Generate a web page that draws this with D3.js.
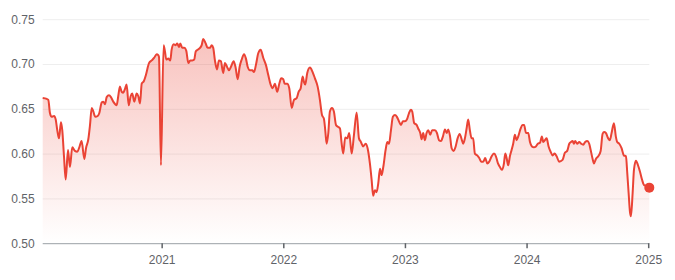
<!DOCTYPE html>
<html>
<head>
<meta charset="utf-8">
<script src="https://cdn.jsdelivr.net/npm/d3@7"></script>
<style>
  body { margin: 0; background: #fff; }
  svg { display: block; font-family: Roboto, Arial, sans-serif; }
  .tick text { fill: #5f6368; font-size: 12px; }
</style>
</head>
<body>
<div id="chart"></div>
<script>
// time as decimal years
var years = [
  2020.022,2020.055,2020.068,2020.082,2020.096,2020.115,2020.129,2020.142,2020.156,2020.172,
  2020.183,2020.197,2020.211,2020.230,2020.246,2020.265,2020.287,2020.306,2020.323,2020.342,
  2020.364,2020.378,2020.397,2020.411,2020.425,2020.438,2020.454,2020.474,2020.487,2020.507,
  2020.520,2020.534,2020.548,2020.567,2020.583,2020.602,2020.630,2020.643,2020.657,2020.671,
  2020.684,2020.698,2020.712,2020.729,2020.745,2020.758,2020.775,2020.794,2020.808,2020.822,
  2020.836,2020.854,2020.871,2020.896,2020.918,2020.939,2020.959,2020.972,2020.978,2020.994,
  2021.016,2021.027,2021.038,2021.054,2021.071,2021.082,2021.099,2021.115,2021.128,2021.142,
  2021.153,2021.169,2021.186,2021.202,2021.219,2021.235,2021.252,2021.268,2021.280,2021.296,
  2021.315,2021.329,2021.342,2021.362,2021.378,2021.397,2021.411,2021.424,2021.438,2021.455,
  2021.471,2021.487,2021.506,2021.520,2021.537,2021.553,2021.570,2021.592,2021.608,2021.625,
  2021.641,2021.658,2021.677,2021.693,2021.707,2021.726,2021.745,2021.759,2021.775,2021.794,
  2021.814,2021.835,2021.857,2021.876,2021.896,2021.912,2021.931,2021.950,2021.967,2021.983,
  2022.000,2022.011,2022.032,2022.049,2022.069,2022.088,2022.110,2022.126,2022.143,2022.159,
  2022.170,2022.180,2022.197,2022.219,2022.241,2022.260,2022.282,2022.301,2022.318,2022.334,
  2022.345,2022.356,2022.370,2022.383,2022.400,2022.416,2022.433,2022.449,2022.466,2022.480,
  2022.493,2022.509,2022.526,2022.542,2022.562,2022.581,2022.603,2022.622,2022.638,2022.657,
  2022.677,2022.693,2022.712,2022.726,2022.739,2022.753,2022.767,2022.781,2022.795,2022.808,
  2022.822,2022.841,2022.855,2022.869,2022.885,2022.901,2022.918,2022.934,2022.951,2022.967,
  2022.984,2023.000,2023.016,2023.033,2023.049,2023.060,2023.076,2023.096,2023.109,2023.126,
  2023.137,2023.150,2023.164,2023.178,2023.192,2023.208,2023.224,2023.247,2023.263,2023.280,
  2023.296,2023.312,2023.329,2023.343,2023.356,2023.370,2023.384,2023.400,2023.417,2023.433,
  2023.450,2023.466,2023.479,2023.493,2023.507,2023.520,2023.534,2023.548,2023.561,2023.575,
  2023.594,2023.611,2023.627,2023.644,2023.660,2023.677,2023.693,2023.713,2023.732,2023.748,
  2023.765,2023.781,2023.797,2023.814,2023.825,2023.836,2023.849,2023.863,2023.877,2023.890,
  2023.904,2023.918,2023.931,2023.951,2023.967,2023.980,2023.995,2024.014,2024.028,2024.044,
  2024.060,2024.077,2024.093,2024.110,2024.126,2024.137,2024.151,2024.165,2024.181,2024.198,
  2024.214,2024.230,2024.247,2024.268,2024.296,2024.315,2024.334,2024.351,2024.365,2024.379,
  2024.389,2024.400,2024.416,2024.433,2024.449,2024.466,2024.482,2024.499,2024.515,2024.527,
  2024.543,2024.554,2024.570,2024.589,2024.609,2024.625,2024.638,2024.652,2024.671,2024.685,
  2024.699,2024.718,2024.734,2024.745,2024.762,2024.781,2024.800,2024.817,2024.828,2024.839,
  2024.850,2024.858,2024.872,2024.883,2024.899,2024.916,2024.932,2024.949,2024.965,2024.982,
  2025.009
];
var values = [
  0.662,0.661,0.660,0.645,0.641,0.642,0.638,0.626,0.617,0.635,
  0.626,0.597,0.571,0.604,0.585,0.607,0.603,0.602,0.607,0.614,
  0.594,0.606,0.616,0.632,0.651,0.647,0.641,0.642,0.645,0.657,
  0.658,0.655,0.663,0.665,0.663,0.658,0.654,0.664,0.675,0.669,
  0.668,0.672,0.677,0.654,0.664,0.667,0.658,0.667,0.664,0.656,
  0.678,0.681,0.688,0.701,0.704,0.707,0.711,0.710,0.708,0.587,
  0.721,0.714,0.705,0.706,0.704,0.716,0.722,0.721,0.723,0.719,
  0.723,0.718,0.718,0.715,0.701,0.704,0.704,0.705,0.714,0.716,
  0.718,0.721,0.728,0.723,0.718,0.718,0.721,0.718,0.704,0.694,
  0.704,0.703,0.690,0.701,0.697,0.693,0.697,0.703,0.696,0.683,
  0.697,0.705,0.711,0.706,0.697,0.693,0.693,0.691,0.699,0.712,
  0.716,0.707,0.699,0.688,0.677,0.673,0.678,0.669,0.678,0.684,
  0.683,0.678,0.678,0.673,0.651,0.660,0.662,0.669,0.673,0.686,
  0.680,0.677,0.690,0.696,0.691,0.684,0.675,0.660,0.643,0.639,
  0.626,0.611,0.623,0.647,0.651,0.647,0.632,0.630,0.628,0.611,
  0.600,0.618,0.617,0.623,0.600,0.621,0.646,0.617,0.613,0.608,
  0.611,0.606,0.589,0.571,0.553,0.559,0.557,0.567,0.583,0.576,
  0.585,0.604,0.613,0.611,0.626,0.641,0.643,0.641,0.636,0.632,
  0.636,0.636,0.638,0.645,0.649,0.647,0.634,0.632,0.628,0.623,
  0.616,0.623,0.615,0.623,0.626,0.621,0.626,0.626,0.623,0.615,
  0.614,0.619,0.627,0.623,0.627,0.620,0.606,0.603,0.608,0.617,
  0.622,0.616,0.611,0.617,0.628,0.638,0.626,0.617,0.617,0.600,
  0.598,0.595,0.591,0.591,0.595,0.589,0.591,0.597,0.600,0.597,
  0.589,0.585,0.582,0.589,0.600,0.595,0.587,0.597,0.604,0.611,
  0.621,0.615,0.619,0.628,0.632,0.632,0.623,0.623,0.613,0.608,
  0.607,0.608,0.611,0.612,0.619,0.613,0.615,0.617,0.608,0.602,
  0.598,0.600,0.597,0.591,0.593,0.601,0.603,0.611,0.613,0.614,
  0.611,0.614,0.611,0.613,0.611,0.610,0.613,0.614,0.611,0.604,
  0.594,0.589,0.594,0.597,0.603,0.622,0.624,0.623,0.617,0.615,
  0.623,0.634,0.619,0.613,0.611,0.606,0.598,0.597,0.578,0.556,
  0.535,0.530,0.556,0.582,0.592,0.587,0.580,0.571,0.565,0.564,
  0.562
];
var yTicks = [0.50, 0.55, 0.60, 0.65, 0.70, 0.75];
var xTicks = [2021, 2022, 2023, 2024, 2025];

var width = 675, height = 280;
var data = years.map(function(t, i) { return {t: t, v: values[i]}; });

var svg = d3.select("#chart").append("svg")
    .attr("width", width)
    .attr("height", height);

var x = d3.scaleLinear()
    .domain([2020.022, 2025.009])
    .range([42.7, 649.3]);

var y = d3.scaleLinear()
    .domain([0.5, 0.75])
    .range([243.2, 19.2]);

var defs = svg.append("defs");
var grad = defs.append("linearGradient")
    .attr("id", "fade")
    .attr("x1", 0).attr("y1", 0).attr("x2", 0).attr("y2", 1);
grad.append("stop").attr("offset", "0%").attr("stop-color", "#ea4335").attr("stop-opacity", 0.32);
grad.append("stop").attr("offset", "100%").attr("stop-color", "#ea4335").attr("stop-opacity", 0.0);

// gridlines
var gy = svg.append("g")
    .attr("transform", "translate(42.7,0)")
    .call(d3.axisLeft(y).tickValues(yTicks).tickFormat(d3.format(".2f"))
        .tickSize(-(649.3 - 42.7)).tickPadding(8));
gy.select(".domain").remove();
gy.selectAll("line").attr("stroke", "#eeeeee");
gy.selectAll(".tick").filter(function(d) { return d === 0.5; }).select("line").remove();

var curve = d3.curveMonotoneX;

svg.append("path")
    .datum(data)
    .attr("fill", "url(#fade)")
    .attr("d", d3.area().curve(curve)
        .x(function(d) { return x(d.t); })
        .y0(y(0.5))
        .y1(function(d) { return y(d.v); }));

// x axis
var gx = svg.append("g")
    .attr("transform", "translate(0," + y(0.5) + ")")
    .call(d3.axisBottom(x).tickValues(xTicks).tickFormat(d3.format("d"))
        .tickSize(5).tickPadding(7));
gx.select(".domain").attr("stroke", "#9aa0a6").attr("d", "M42.7,0.5H649.3");
gx.selectAll(".tick line").attr("stroke", "#5f6368").attr("stroke-width", 1.5);

svg.append("path")
    .datum(data)
    .attr("fill", "none")
    .attr("stroke", "#ea4335")
    .attr("stroke-width", 2)
    .attr("stroke-linejoin", "round")
    .attr("d", d3.line().curve(curve)
        .x(function(d) { return x(d.t); })
        .y(function(d) { return y(d.v); }));

var last = data[data.length - 1];
svg.append("circle")
    .attr("cx", x(last.t))
    .attr("cy", y(last.v))
    .attr("r", 5)
    .attr("fill", "#ea4335");
</script>
</body>
</html>
